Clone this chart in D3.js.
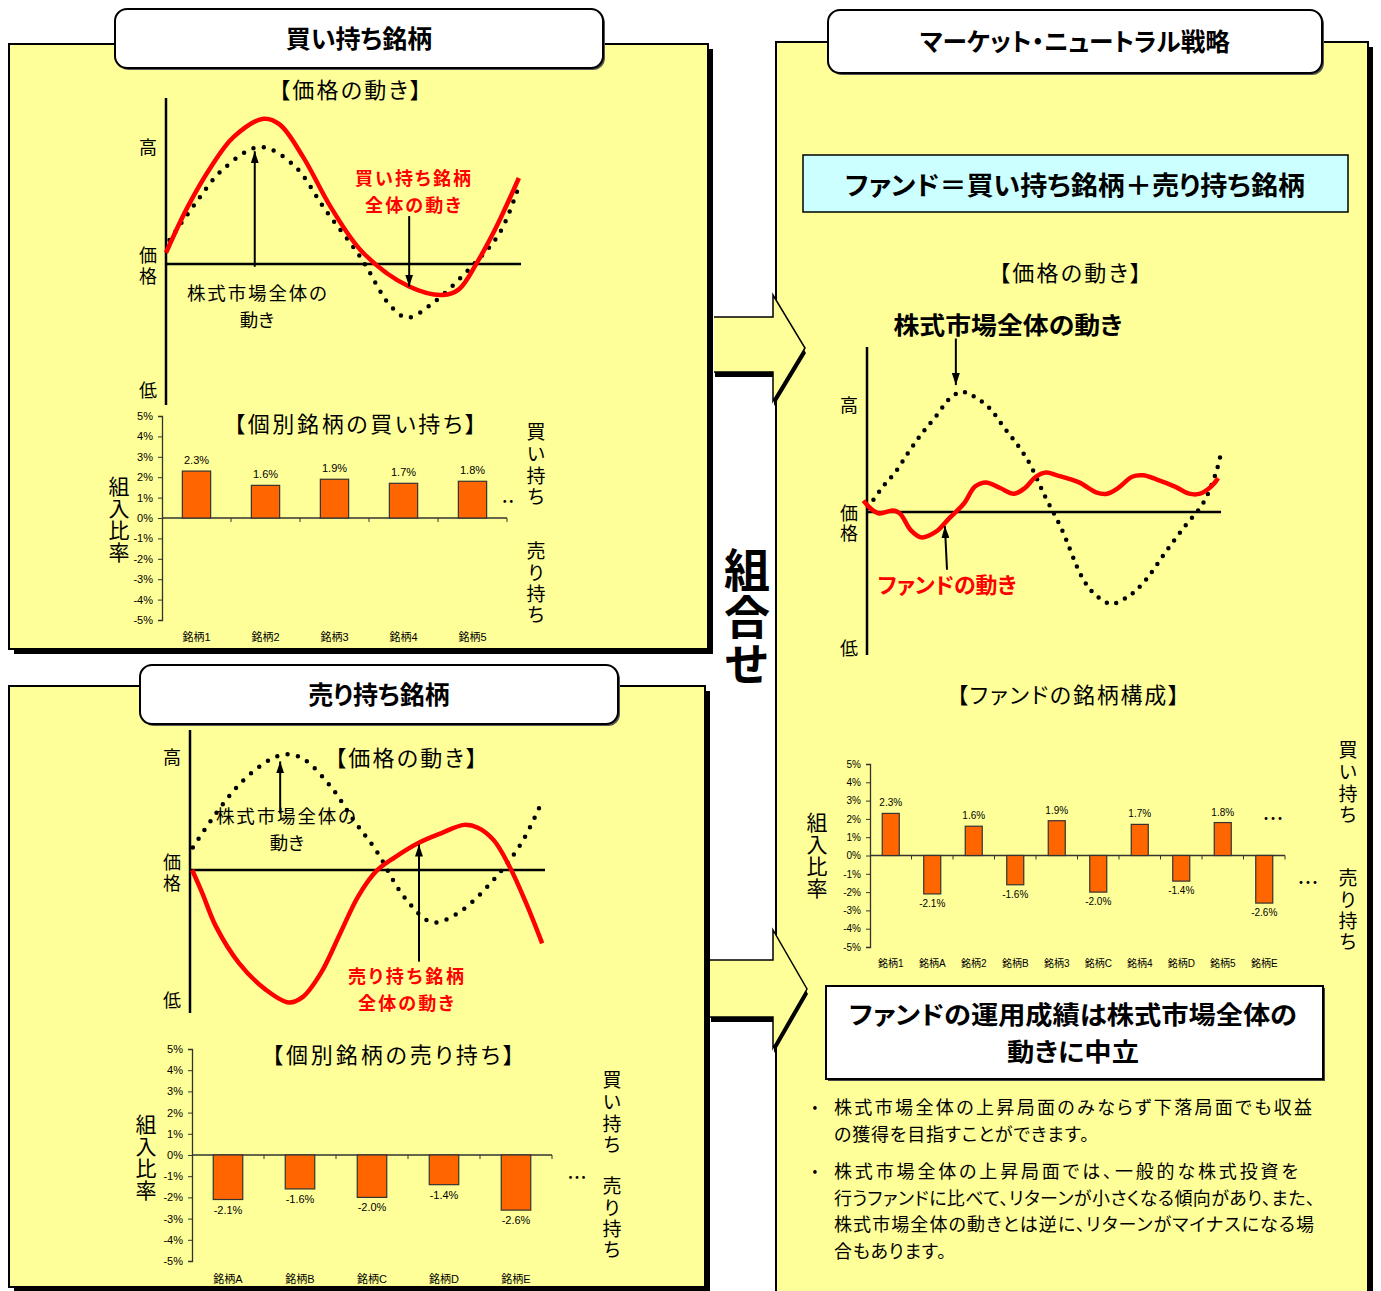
<!DOCTYPE html>
<html>
<head>
<meta charset="utf-8">
<script src="https://cdn.jsdelivr.net/npm/d3@7"></script>
<style>
  body { margin: 0; background: #fff; }
  svg text { font-family: "Noto Sans CJK JP", sans-serif; font-feature-settings: "palt"; }
  .num { font-family: "Liberation Sans", "Noto Sans CJK JP", sans-serif; }
  .vert { writing-mode: vertical-rl; text-orientation: upright; font-feature-settings: normal; }
</style>
</head>
<body>
<div id="chart"></div>
<script>
// ---- data ----
const buyNames = ['銘柄1', '銘柄2', '銘柄3', '銘柄4', '銘柄5'];
const buyWeights = [2.3, 1.6, 1.9, 1.7, 1.8];
const sellNames = ['銘柄A', '銘柄B', '銘柄C', '銘柄D', '銘柄E'];
const sellWeights = [-2.1, -1.6, -2.0, -1.4, -2.6];
const fundNames = ['銘柄1', '銘柄A', '銘柄2', '銘柄B', '銘柄3', '銘柄C', '銘柄4', '銘柄D', '銘柄5', '銘柄E'];
const fundWeights = [2.3, -2.1, 1.6, -1.6, 1.9, -2.0, 1.7, -1.4, 1.8, -2.6];
const weightTicks = [5, 4, 3, 2, 1, 0, -1, -2, -3, -4, -5];

// price paths: [time 0-100, price -100..100]
const marketLong = [[1, 17], [8, 42], [16, 67], [26.5, 83], [36, 70], [45, 38], [55, 4], [63, -29], [68, -38], [75, -28], [86, -2], [94, 22], [99.5, 56]];
const buyLine = [[0, 8], [6, 40], [12.7, 69], [19, 90], [27.5, 103], [32, 99], [38.6, 76], [46.5, 40], [55.5, 8], [68.5, -16], [78, -22], [82.5, -18], [87.6, 1], [93, 26], [99.4, 61]];
const marketShort = [[0.8, 16], [7.3, 40], [14.4, 62], [22.3, 78], [27, 82], [31.8, 79], [39.7, 59], [46.2, 35], [52.4, 14], [60.3, -19], [68.2, -37], [75.8, -30], [86.2, -5], [93.8, 21], [99.4, 50]];
const sellLine = [[0.6, 0], [3.4, -16], [7.3, -40], [13.8, -66], [21.4, -85], [27.9, -94], [31.8, -90], [36.9, -73], [42.3, -45], [47.3, -19], [52.4, -1], [57.7, 9], [64.2, 19], [70.7, 26], [77.2, 32], [81.1, 30], [85.6, 21], [90.1, 2], [94.6, -23], [99.2, -52]];
const marketFund = [[0.3, 3], [4.2, 17], [8.2, 29], [11.9, 43], [15.3, 55], [19.2, 67], [24, 82], [27, 85], [29.5, 83], [34.5, 74], [38.7, 60], [42.4, 48], [45.8, 35], [50.3, 11], [54.8, -11], [60.5, -45], [63.8, -57], [68.9, -65], [74.3, -59], [78.8, -48], [83.9, -30], [89.5, -11], [94.9, 6], [98.6, 28], [100, 42]];
const fundLine = [[-1, 8], [0.8, 3], [3.4, -1], [7.3, 1], [9.3, -1], [12.4, -13], [15.3, -18], [19.5, -14], [23.4, -4], [27.4, 6], [30.5, 18], [33.6, 21], [37.6, 17], [41.5, 13], [44.6, 17], [47.7, 25], [50.6, 28], [53.7, 26], [59.9, 21], [64.7, 14], [67.8, 13], [70.9, 17], [74.9, 25], [78, 26], [81.9, 23], [87, 18], [91, 13], [94.1, 13], [97.2, 18], [99.2, 24]];

const YELLOW = '#FFFF99';
const RED = '#FF0000';
const ORANGE = '#FF6600';

const svg = d3.select('#chart').append('svg')
    .attr('width', 1381)
    .attr('height', 1291);

const defs = svg.append('defs');
defs.append('marker')
    .attr('id', 'ah')
    .attr('viewBox', '0 0 12 8')
    .attr('refX', 12).attr('refY', 4)
    .attr('markerWidth', 12).attr('markerHeight', 8)
    .attr('markerUnits', 'userSpaceOnUse')
    .attr('orient', 'auto')
    .append('path').attr('d', 'M0,0 L12,4 L0,8 Z').attr('fill', '#000');

function text(g, x, y, str, o = {}) {
    const t = g.append('text')
        .attr('x', x).attr('y', y)
        .attr('text-anchor', o.anchor || 'middle')
        .attr('font-size', o.size || 18)
        .attr('font-weight', o.bold ? 'bold' : 'normal')
        .attr('fill', o.color || '#000')
        .text(str);
    if (o.len) t.attr('textLength', o.len).attr('lengthAdjust', o.adjust || 'spacingAndGlyphs');
    return t;
}

// vertical text: first char centred on y0, then one char every `step` px
function vtext(g, x, y0, str, size, step, bold) {
    return g.append('text')
        .attr('class', 'vert')
        .attr('x', x).attr('y', y0 - size / 2)
        .attr('font-size', size)
        .attr('font-weight', bold ? 'bold' : 'normal')
        .style('letter-spacing', (step - size) + 'px')
        .text(str);
}

function panel(x, y, w, h) {
    svg.append('rect').attr('x', x + 5).attr('y', y + 5).attr('width', w).attr('height', h).attr('fill', '#000');
    svg.append('rect').attr('x', x).attr('y', y).attr('width', w).attr('height', h)
        .attr('fill', YELLOW).attr('stroke', '#000').attr('stroke-width', 2);
}

function titleBox(x, y, w, h, str, len) {
    svg.append('rect').attr('x', x + 2).attr('y', y + 2).attr('width', w).attr('height', h).attr('rx', 12).attr('fill', '#555');
    svg.append('rect').attr('x', x).attr('y', y).attr('width', w).attr('height', h).attr('rx', 12)
        .attr('fill', '#fff').attr('stroke', '#000').attr('stroke-width', 2);
    text(svg, x + w / 2, y + h / 2 + 9, str, { size: 25, bold: true, len });
}

function bigArrow(xl, yt, yb, xb, ht, hb, xt) {
    const yc = (ht + hb) / 2;
    const pts = [[xl, yt], [xb, yt], [xb, ht], [xt, yc], [xb, hb], [xb, yb], [xl, yb]];
    svg.append('polygon').attr('points', pts.map(p => [p[0] + 1, p[1] + 5].join(',')).join(' ')).attr('fill', '#000');
    svg.append('polygon').attr('points', pts.map(p => p.join(',')).join(' ')).attr('fill', YELLOW);
    svg.append('path')
        .attr('d', `M${xl},${yt} L${xb},${yt} L${xb},${ht} L${xt},${yc} L${xb},${hb} L${xb},${yb} L${xl},${yb}`)
        .attr('fill', 'none').attr('stroke', '#000').attr('stroke-width', 1.5);
}

// ---- price movement chart ----
function priceChart(cfg) {
    const g = svg.append('g');
    const x = d3.scaleLinear().domain([0, 100]).range([cfg.x0, cfg.x1]);
    const y = d3.scaleLinear().domain([-100, 100]).range([cfg.y0 + 141, cfg.y0 - 141]);
    const line = d3.line()
        .x(d => x(d[0]))
        .y(d => y(d[1]))
        .curve(d3.curveCatmullRom.alpha(0.5));

    g.append('line').attr('x1', cfg.x0).attr('x2', cfg.x0).attr('y1', cfg.top).attr('y2', cfg.bottom)
        .attr('stroke', '#000').attr('stroke-width', 2.5);
    g.append('line').attr('x1', cfg.x0).attr('x2', cfg.x1).attr('y1', y(0)).attr('y2', y(0))
        .attr('stroke', '#000').attr('stroke-width', 2.5);

    g.append('path').attr('d', line(cfg.market))
        .attr('fill', 'none').attr('stroke', '#000').attr('stroke-width', 4.5)
        .attr('stroke-linecap', 'round').attr('stroke-dasharray', cfg.dash);
    g.append('path').attr('d', line(cfg.line))
        .attr('fill', 'none').attr('stroke', RED).attr('stroke-width', 4.5)
        .attr('stroke-linejoin', 'round');

    const lx = cfg.x0 - 18;
    text(g, lx, cfg.labels[0] + 7, '高');
    vtext(g, lx, cfg.labels[1], '価格', 18, cfg.labels[2] - cfg.labels[1]);
    text(g, lx, cfg.labels[3] + 7, '低');

    cfg.arrows.forEach(a => {
        g.append('line')
            .attr('x1', x(a[0])).attr('y1', y(a[1]))
            .attr('x2', x(a[2])).attr('y2', y(a[3]))
            .attr('stroke', '#000').attr('stroke-width', 2)
            .attr('marker-end', 'url(#ah)');
    });
    return g;
}

// ---- weight bar chart ----
function barChart(cfg) {
    const g = svg.append('g');
    const x = d3.scaleBand().domain(cfg.names).range(cfg.xr).padding(0);
    const y = d3.scaleLinear().domain([-5, 5]).range(cfg.yr);
    const bw = x.bandwidth() * 0.41;
    const data = cfg.names.map((n, i) => ({ name: n, v: cfg.values[i] }));

    const yAxis = d3.axisLeft(y).tickValues(weightTicks).tickFormat(d => d + '%').tickSize(4).tickPadding(5);
    const ya = g.append('g').attr('transform', `translate(${cfg.xr[0]},0)`).call(yAxis);
    ya.select('.domain').attr('stroke', '#333').attr('stroke-width', 1.3);
    ya.selectAll('.tick line').attr('stroke', '#333');
    ya.selectAll('.tick text').attr('class', 'num').attr('font-size', cfg.fs).attr('fill', '#000');

    // zero line with band boundary ticks
    g.append('line').attr('x1', cfg.xr[0]).attr('x2', cfg.xr[1]).attr('y1', y(0)).attr('y2', y(0))
        .attr('stroke', '#333').attr('stroke-width', 1.3);
    g.selectAll('.sep').data(cfg.names).enter().append('line')
        .attr('x1', d => x(d) + x.step()).attr('x2', d => x(d) + x.step())
        .attr('y1', y(0)).attr('y2', y(0) + 4)
        .attr('stroke', '#333');

    g.selectAll('.bar').data(data).enter().append('rect')
        .attr('x', d => x(d.name) + (x.bandwidth() - bw) / 2)
        .attr('y', d => y(Math.max(0, d.v)))
        .attr('width', bw)
        .attr('height', d => Math.abs(y(d.v) - y(0)))
        .attr('fill', ORANGE).attr('stroke', '#333').attr('stroke-width', 1.2);

    g.selectAll('.val').data(data).enter().append('text')
        .attr('class', 'num')
        .attr('x', d => x(d.name) + x.bandwidth() / 2)
        .attr('y', d => d.v >= 0 ? y(d.v) - 7 : y(d.v) + cfg.fs + 3)
        .attr('text-anchor', 'middle').attr('font-size', cfg.fs)
        .text(d => d.v.toFixed(1) + '%');

    const xAxis = d3.axisBottom(x).tickSize(0).tickPadding(0);
    const xa = g.append('g').attr('transform', `translate(0,${cfg.labelY})`).call(xAxis);
    xa.select('.domain').remove();
    xa.selectAll('.tick text').attr('class', 'num').attr('font-size', cfg.fs).attr('fill', '#000').attr('dy', 0);
    return g;
}

// ---- panels ----
panel(9, 44, 699, 605);
panel(9, 686, 696, 601);
panel(776, 42, 592, 1300);

bigArrow(714, 317, 372, 773, 295, 401, 805);
bigArrow(710, 960, 1017, 773, 930, 1048, 807);

titleBox(115, 9, 488, 59, '買い持ち銘柄');
titleBox(140, 665, 478, 59, '売り持ち銘柄');
titleBox(828, 10, 494, 63, 'マーケット・ニュートラル戦略', 310);

// combine label
vtext(svg, 747, 570, '組合せ', 46, 47, true);

// ---- top-left: long positions ----
text(svg, 350, 98, '【価格の動き】', { size: 22, len: 142, adjust: 'spacing' });
priceChart({
    x0: 166, x1: 521, y0: 264, top: 98, bottom: 405,
    market: marketLong, line: buyLine, dash: '0 10.5',
    labels: [147, 255, 276, 390],
    arrows: [[25, -2, 25, 80], [68.5, 34, 68.5, -16]]
});
text(svg, 257, 300, '株式市場全体の', { size: 18.5, len: 140, adjust: 'spacing' });
text(svg, 257, 327, '動き', { size: 18.5 });
text(svg, 413, 185, '買い持ち銘柄', { size: 18, bold: true, color: RED, len: 116, adjust: 'spacing' });
text(svg, 413, 211.5, '全体の動き', { size: 18, bold: true, color: RED, len: 96, adjust: 'spacing' });

text(svg, 355, 432, '【個別銘柄の買い持ち】', { size: 22, len: 242, adjust: 'spacing' });
barChart({ names: buyNames, values: buyWeights, xr: [162, 507], yr: [620, 416], labelY: 641, fs: 11 });
vtext(svg, 119, 486, '組入比率', 21, 22);
vtext(svg, 536, 432, '買い持ち', 19, 21.7);
vtext(svg, 536, 551, '売り持ち', 19, 21.3);
text(svg, 508, 506, '・・', { size: 13 });

// ---- bottom-left: short positions ----
text(svg, 406, 766, '【価格の動き】', { size: 22, len: 142, adjust: 'spacing' });
priceChart({
    x0: 190, x1: 545, y0: 870, top: 730, bottom: 1013,
    market: marketShort, line: sellLine, dash: '0 10.5',
    labels: [757, 862, 883, 1000],
    arrows: [[25.4, 40, 25.4, 77], [64.5, -65, 64.5, 18]]
});
text(svg, 286, 823, '株式市場全体の', { size: 18.5, len: 140, adjust: 'spacing' });
text(svg, 287, 850, '動き', { size: 18.5 });
text(svg, 406, 983, '売り持ち銘柄', { size: 18, bold: true, color: RED, len: 116, adjust: 'spacing' });
text(svg, 406, 1009.5, '全体の動き', { size: 18, bold: true, color: RED, len: 96, adjust: 'spacing' });

text(svg, 393, 1063, '【個別銘柄の売り持ち】', { size: 22, len: 242, adjust: 'spacing' });
barChart({ names: sellNames, values: sellWeights, xr: [192, 552], yr: [1261, 1049], labelY: 1283, fs: 11 });
vtext(svg, 146, 1124, '組入比率', 21, 22);
vtext(svg, 612, 1080, '買い持ち', 19, 21.7);
vtext(svg, 612, 1186, '売り持ち', 19, 21.3);
text(svg, 577, 1182, '・・・', { size: 13 });

// ---- right: market neutral ----
svg.append('rect').attr('x', 803).attr('y', 155).attr('width', 545).attr('height', 57)
    .attr('fill', '#CCFFFF').attr('stroke', '#000').attr('stroke-width', 1.5);
text(svg, 1075, 195, 'ファンド＝買い持ち銘柄＋売り持ち銘柄', { size: 26, bold: true, len: 460 });

text(svg, 1070, 281, '【価格の動き】', { size: 22, len: 142, adjust: 'spacing' });
text(svg, 1008, 334, '株式市場全体の動き', { size: 24, bold: true, len: 229 });
priceChart({
    x0: 867, x1: 1221, y0: 512, top: 347, bottom: 655,
    market: marketFund, line: fundLine, dash: '0 9.6',
    labels: [405, 513, 533, 648],
    arrows: [[25.1, 123, 25.1, 90], [22.6, -41, 22, -10]]
});
text(svg, 947, 593, 'ファンドの動き', { size: 22, bold: true, color: RED, len: 139 });

text(svg, 1068, 703, '【ファンドの銘柄構成】', { size: 22, len: 222, adjust: 'spacing' });
barChart({ names: fundNames, values: fundWeights, xr: [870, 1285], yr: [947, 764], labelY: 967, fs: 10 });
vtext(svg, 817, 822, '組入比率', 21, 22);
vtext(svg, 1348, 750, '買い持ち', 19, 21.7);
vtext(svg, 1348, 878, '売り持ち', 19, 21.3);
text(svg, 1273, 823, '・・・', { size: 14 });
text(svg, 1308, 887, '・・・', { size: 14 });

// conclusion box
svg.append('rect').attr('x', 828).attr('y', 988).attr('width', 497).attr('height', 93).attr('fill', '#444');
svg.append('rect').attr('x', 826).attr('y', 986).attr('width', 497).attr('height', 93)
    .attr('fill', '#fff').attr('stroke', '#000').attr('stroke-width', 2);
text(svg, 1073, 1024, 'ファンドの運用成績は株式市場全体の', { size: 25, bold: true, len: 448 });
text(svg, 1073, 1061, '動きに中立', { size: 25, bold: true, len: 132 });

const bullets = [
    ['株式市場全体の上昇局面のみならず下落局面でも収益', 1107, 478],
    ['の獲得を目指すことができます。', 1133.5, 255],
    ['株式市場全体の上昇局面では、一般的な株式投資を', 1171, 464],
    ['行うファンドに比べて、リターンが小さくなる傾向があり、また、', 1197.5, 481],
    ['株式市場全体の動きとは逆に、リターンがマイナスになる場', 1224, 480],
    ['合もあります。', 1250.5, 112]
];
bullets.forEach(b => text(svg, 834, b[1] + 7, b[0], { size: 18, anchor: 'start', len: b[2], adjust: 'spacing' }));
text(svg, 815, 1112, '•', { size: 14 });
text(svg, 815, 1176, '•', { size: 14 });
</script>
</body>
</html>
